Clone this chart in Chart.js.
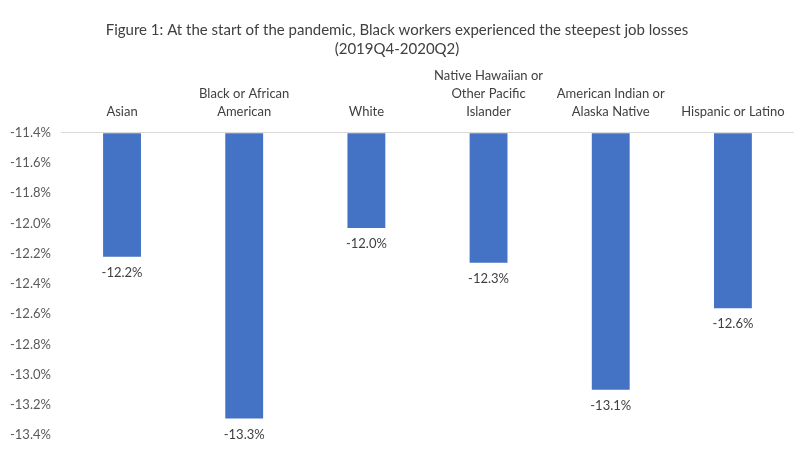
<!DOCTYPE html>
<html>
<head>
<meta charset="utf-8">
<script src="https://cdn.jsdelivr.net/npm/chart.js@4.4.0/dist/chart.umd.min.js"></script>
<style>
  html, body { margin: 0; padding: 0; background: #fff; }
  #wrap { width: 800px; height: 453px; }
</style>
</head>
<body>
<div id="wrap"><canvas id="chart"></canvas></div>
<script>
const categories = [
  "Asian",
  ["Black or African", "American"],
  "White",
  ["Native Hawaiian or", "Other Pacific", "Islander"],
  ["American Indian or", "Alaska Native"],
  "Hispanic or Latino"
];
const jobLoss = [-12.22, -13.29, -12.03, -12.26, -13.10, -12.56];
const yTop = -11.4;
const yBottom = -13.4;

const barLabels = {
  id: "barLabels",
  afterDatasetsDraw(chart) {
    const ctx = chart.ctx;
    const meta = chart.getDatasetMeta(0);
    ctx.save();
    ctx.font = "13px Lato";
    ctx.fillStyle = "#404040";
    ctx.textAlign = "center";
    ctx.textBaseline = "middle";
    meta.data.forEach((bar, i) => {
      ctx.fillText(jobLoss[i].toFixed(1) + "%", bar.x, bar.y + 16);
    });
    ctx.restore();
  }
};

new Chart(document.getElementById("chart"), {
  type: "bar",
  data: {
    labels: categories,
    datasets: [{
      data: jobLoss,
      base: yTop,
      backgroundColor: "#4472c4",
      borderWidth: 0,
      barPercentage: 0.31,
      categoryPercentage: 1
    }]
  },
  options: {
    responsive: true,
    maintainAspectRatio: false,
    animation: false,
    layout: { padding: { left: 0, right: 6, top: 4, bottom: 12 } },
    plugins: {
      legend: { display: false },
      tooltip: { enabled: false },
      title: {
        display: true,
        text: ["Figure 1: At the start of the pandemic, Black workers experienced the steepest job losses", "(2019Q4-2020Q2)"],
        color: "#404040",
        font: { family: "Lato", size: 15, weight: "normal", lineHeight: 1.3 },
        padding: { top: 16, bottom: 4 }
      }
    },
    scales: {
      x: {
        position: "top",
        grid: { display: false },
        border: { display: false },
        ticks: {
          color: "#404040",
          font: { family: "Lato", size: 13, lineHeight: 1.38 },
          maxRotation: 0,
          autoSkip: false,
          padding: 4
        }
      },
      y: {
        min: yBottom,
        max: yTop,
        grid: {
          drawTicks: false,
          color: ctx => ctx.tick && Math.abs(ctx.tick.value - yTop) < 1e-6 ? "#d9d9d9" : "transparent"
        },
        border: { display: false },
        ticks: {
          stepSize: 0.2,
          color: "#595959",
          font: { family: "Lato", size: 13 },
          padding: 10,
          callback: v => v.toFixed(1) + "%"
        }
      }
    }
  },
  plugins: [barLabels]
});
</script>
</body>
</html>
